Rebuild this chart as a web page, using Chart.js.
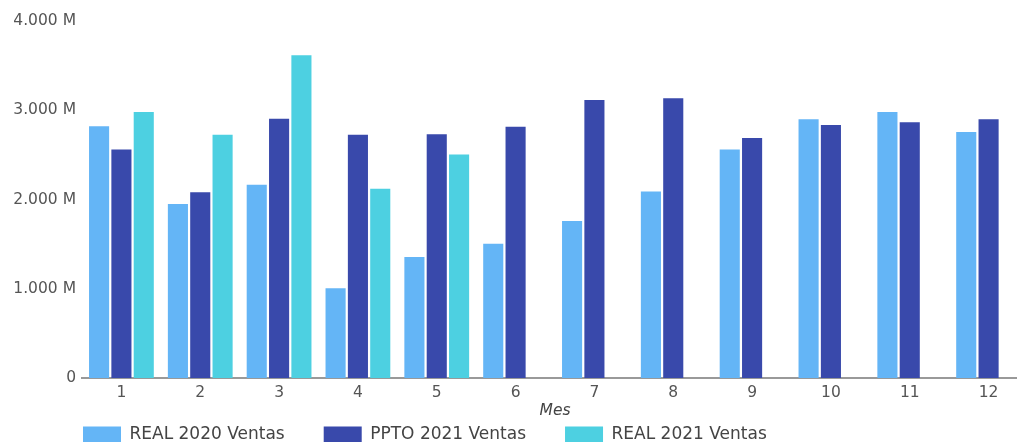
<!DOCTYPE html>
<html>
<head>
<meta charset="utf-8">
<script src="https://cdn.jsdelivr.net/npm/chart.js@4"></script>
<style>
html, body { margin:0; padding:0; background:#fff; overflow:hidden; }
#wrap { width:1028px; height:486px; }
</style>
</head>
<body>
<div id="wrap"><canvas id="ventas"></canvas></div>
<script>
// datos (millones)
const meses = ['1','2','3','4','5','6','7','8','9','10','11','12'];
const real2020 = [2820, 1950, 2165, 1005, 1355, 1505, 1760, 2090, 2560, 2900, 2980, 2755];
const ppto2021 = [2560, 2080, 2905, 2725, 2730, 2815, 3115, 3135, 2690, 2835, 2865, 2900];
const real2021 = [2980, 2725, 3615, 2120, 2505, null, null, null, null, null, null, null];
const yTicks = [0, 1000, 2000, 3000, 4000];

Chart.defaults.font.family = '"DejaVu Sans", sans-serif';
Chart.defaults.color = '#555';

function fmt(v) {
    if (v === 0) return '0';
    return String(v).replace(/\B(?=(\d{3})+(?!\d))/g, '.') + ' M';
}

// la leyenda queda debajo del eje, alineada con el area del grafico
const legendShift = {
    id: 'legendShift',
    afterLayout(chart) {
        chart.legend.left = 44;
        chart.legend.top = 387;
    }
};

new Chart(document.getElementById('ventas'), {
    type: 'bar',
    data: {
        labels: meses,
        datasets: [
            { label: 'REAL 2020 Ventas', data: real2020, backgroundColor: '#64b5f6' },
            { label: 'PPTO 2021 Ventas', data: ppto2021, backgroundColor: '#3949ab' },
            { label: 'REAL 2021 Ventas', data: real2021, backgroundColor: '#4dd0e1' }
        ]
    },
    options: {
        responsive: true,
        maintainAspectRatio: false,
        animation: false,
        layout: { padding: { top: 21, right: 0, left: 0, bottom: 0 } },
        datasets: { bar: { barPercentage: 0.9, categoryPercentage: 0.85 } },
        plugins: {
            legend: {
                position: 'bottom',
                align: 'start',
                labels: {
                    boxWidth: 38, boxHeight: 16, padding: 39,
                    color: '#444',
                    font: { size: 17 }
                }
            },
            tooltip: { enabled: false }
        },
        scales: {
            x: {
                afterFit(scale) { scale.height = 42; },
                grid: { display: false, drawTicks: false },
                border: { color: '#999', width: 2 },
                ticks: { font: { size: 15.5 }, color: '#555', padding: 6 },
                title: { display: true, text: 'Mes', font: { size: 15.5, style: 'italic' }, color: '#444', padding: { top: 0, bottom: 0 } }
            },
            y: {
                min: 0, max: 4000,
                afterBuildTicks(scale) { scale.ticks = yTicks.map(v => ({ value: v })); },
                afterFit(scale) { scale.width = 82; },
                grid: { display: false, drawTicks: false },
                border: { display: false },
                ticks: { callback: fmt, font: { size: 15.5 }, color: '#555', padding: 6 }
            }
        }
    },
    plugins: [legendShift]
});
</script>
</body>
</html>
